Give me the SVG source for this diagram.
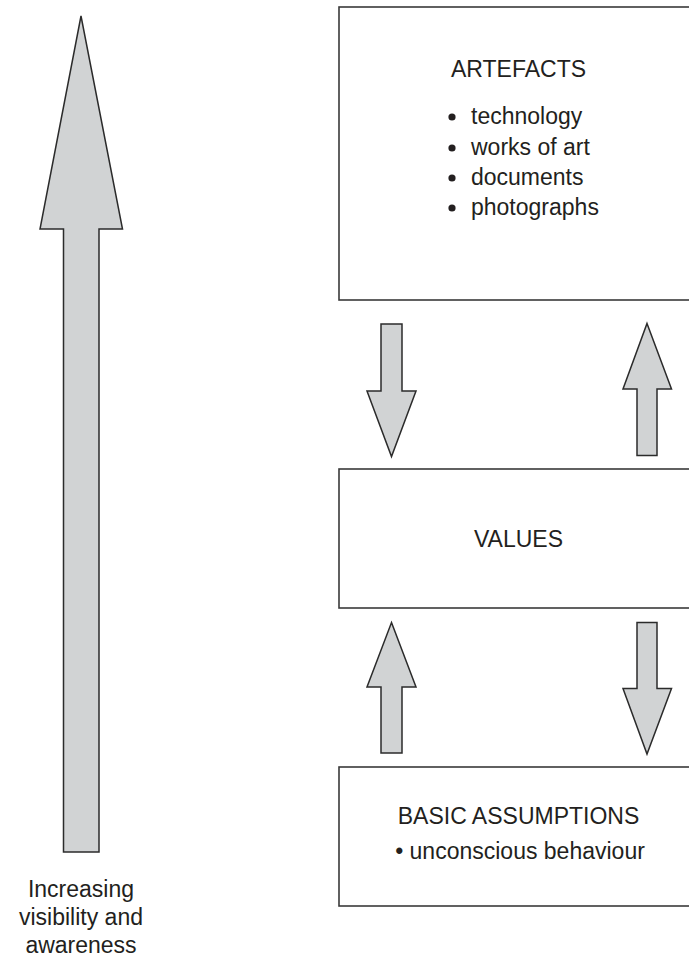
<svg xmlns="http://www.w3.org/2000/svg" width="689" height="959" viewBox="0 0 689 959">
  <style>
    .box { fill: #ffffff; stroke: #3a3a3a; stroke-width: 1.6; }
    .arrow { fill: #d1d3d4; stroke: #2b2b2b; stroke-width: 1.5; stroke-linejoin: miter; }
    .label { font-family: "Liberation Sans", Arial, Helvetica, sans-serif; font-size: 23px; fill: #231f20; }
    .mid { text-anchor: middle; }
    .dot { fill: #231f20; }
  </style>

  <!-- boxes (right edges run past the page edge) -->
  <g id="artefacts">
    <rect class="box" x="339" y="7" width="362" height="293"/>
    <text class="label mid" x="518.5" y="77">ARTEFACTS</text>
    <circle class="dot" cx="452" cy="117" r="3.6"/>
    <text class="label" x="471" y="124">technology</text>
    <circle class="dot" cx="452" cy="148" r="3.6"/>
    <text class="label" x="471" y="155">works of art</text>
    <circle class="dot" cx="452" cy="178" r="3.6"/>
    <text class="label" x="471" y="185">documents</text>
    <circle class="dot" cx="452" cy="208" r="3.6"/>
    <text class="label" x="471" y="215">photographs</text>
  </g>

  <g id="values">
    <rect class="box" x="339" y="469" width="362" height="139"/>
    <text class="label mid" x="518.5" y="547">VALUES</text>
  </g>

  <g id="basic-assumptions">
    <rect class="box" x="339" y="767" width="362" height="139"/>
    <text class="label mid" x="518.5" y="824">BASIC ASSUMPTIONS</text>
    <text class="label mid" x="520" y="859">• unconscious behaviour</text>
  </g>

  <!-- block arrows between the layers -->
  <g id="connectors">
    <!-- artefacts -> values -->
    <polygon class="arrow" points="381,324 402,324 402,391 416,391 391.5,456.5 367,391 381,391"/>
    <!-- values -> artefacts -->
    <polygon class="arrow" points="647,323.5 671.5,389 657,389 657,455.5 637,455.5 637,389 623,389"/>
    <!-- basic assumptions -> values -->
    <polygon class="arrow" points="391.5,622.5 416,687 402,687 402,753 381,753 381,687 367,687"/>
    <!-- values -> basic assumptions -->
    <polygon class="arrow" points="637,622.5 657,622.5 657,688.5 671.5,688.5 647,754 623,688.5 637,688.5"/>
  </g>

  <!-- large vertical arrow with caption -->
  <g id="visibility-axis">
    <polygon class="arrow" points="81,16 122.5,229 99,229 99,852 63.5,852 63.5,229 40,229"/>
    <text class="label mid" x="81" y="897">Increasing</text>
    <text class="label mid" x="81" y="925">visibility and</text>
    <text class="label mid" x="81" y="953">awareness</text>
  </g>
</svg>
